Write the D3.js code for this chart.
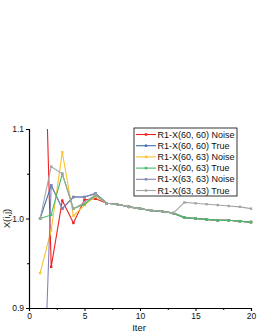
<!DOCTYPE html>
<html>
<head>
<meta charset="utf-8">
<script src="https://cdn.jsdelivr.net/npm/d3@7"></script>
<style>
  html, body { margin: 0; padding: 0; background: #fff; }
  svg { display: block; font-family: Arial, "Liberation Sans", sans-serif; }
</style>
</head>
<body>
<div id="chart"></div>
<script>
// Iter 1..20, values
const iters = d3.range(1, 21);
const seriesNames = [
  'R1-X(60, 60) Noise', 'R1-X(60, 60) True', 'R1-X(60, 63) Noise',
  'R1-X(60, 63) True', 'R1-X(63, 63) Noise', 'R1-X(63, 63) True'
];
const seriesColors = ['#f02020', '#3d6fb0', '#fcc22e', '#45bb6a', '#8484b8', '#a4a4a4'];
// order the lines are painted in (green sits on top of the shared tail)
const drawOrder = [0, 1, 2, 4, 3, 5];

const red    = [1.40, 0.946, 1.020, 0.995, 1.021, 1.022, 1.017, 1.016, 1.013, 1.011, 1.009, 1.008, 1.006, 1.001, 1.000, 0.999, 0.998, 0.998, 0.997, 0.996];
const blue   = [1.000, 1.037, 1.011, 1.024, 1.024, 1.028, 1.017, 1.016, 1.013, 1.011, 1.009, 1.008, 1.006, 1.001, 1.000, 0.999, 0.998, 0.998, 0.997, 0.996];
const yellow = [0.939, 0.987, 1.074, 1.003, 1.015, 1.025, 1.017, 1.016, 1.013, 1.011, 1.009, 1.008, 1.006, 1.001, 1.000, 0.999, 0.998, 0.998, 0.997, 0.996];
const green  = [1.000, 1.004, 1.050, 1.011, 1.016, 1.026, 1.017, 1.016, 1.013, 1.011, 1.009, 1.008, 1.006, 1.001, 1.000, 0.999, 0.998, 0.998, 0.997, 0.996];
const purple = [0.680, 1.037, 1.011, 1.024, 1.024, 1.028, 1.017, 1.016, 1.013, 1.011, 1.009, 1.008, 1.006, 1.001, 1.000, 0.999, 0.998, 0.998, 0.997, 0.996];
const grey   = [1.000, 1.058, 1.050, 1.011, 1.018, 1.027, 1.017, 1.016, 1.013, 1.011, 1.009, 1.008, 1.006, 1.018, 1.017, 1.016, 1.015, 1.014, 1.013, 1.011];
const seriesValues = [red, blue, yellow, green, purple, grey];

const xTicks = [0, 5, 10, 15, 20];
const xMinor = [2.5, 7.5, 12.5, 17.5];
const yTicks = [0.9, 1.0, 1.1];
const yMinor = [0.95, 1.05];

const W = 258, H = 333;
const margin = { top: 129, right: 7, bottom: 25, left: 29 };
const innerW = W - margin.left - margin.right;
const innerH = H - margin.top - margin.bottom;

const svg = d3.select('#chart').append('svg').attr('width', W).attr('height', H);
const g = svg.append('g').attr('transform', `translate(${margin.left},${margin.top})`);

const x = d3.scaleLinear().domain([0, 20]).range([0, innerW]);
const y = d3.scaleLinear().domain([0.9, 1.1]).range([innerH, 0]);

g.append('clipPath').attr('id', 'plot')
  .append('rect').attr('x', 0).attr('y', 0).attr('width', innerW + 2).attr('height', innerH);

// axes
const xAxis = g.append('g').attr('transform', `translate(0,${innerH})`)
  .call(d3.axisBottom(x).tickValues(xTicks).tickFormat(d3.format('d')).tickSize(3).tickPadding(2));
g.append('g').attr('transform', `translate(0,${innerH})`)
  .call(d3.axisBottom(x).tickValues(xMinor).tickFormat('').tickSize(2))
  .select('.domain').remove();
const yAxis = g.append('g')
  .call(d3.axisLeft(y).tickValues(yTicks).tickFormat(d3.format('.1f')).tickSize(3).tickPadding(2));
g.append('g')
  .call(d3.axisLeft(y).tickValues(yMinor).tickFormat('').tickSize(2))
  .select('.domain').remove();
g.selectAll('.domain').attr('stroke', '#000').attr('stroke-width', 1.2);
g.selectAll('.tick line').attr('stroke', '#000');
xAxis.selectAll('text').style('font-size', '8.5px').attr('fill', '#111');
yAxis.selectAll('text').style('font-size', '8.5px').attr('fill', '#111');

svg.append('text').attr('x', margin.left + x(10) - 1).attr('y', 331)
  .attr('text-anchor', 'middle').style('font-size', '9.5px').attr('fill', '#111').text('Iter');
svg.append('text').attr('transform', `translate(10,${margin.top + y(1.0)}) rotate(-90)`)
  .attr('text-anchor', 'middle').style('font-size', '9.5px').attr('fill', '#111').text('X(i,j)');

// series
const line = d3.line().x((d, i) => x(iters[i])).y((d) => y(d));
const plot = g.append('g').attr('clip-path', 'url(#plot)');
drawOrder.forEach((k) => {
  const vals = seriesValues[k];
  const s = plot.append('g');
  s.append('path').datum(vals).attr('d', line)
    .attr('fill', 'none').attr('stroke', seriesColors[k]).attr('stroke-width', 1.1);
  s.selectAll('rect').data(vals).join('rect')
    .attr('x', (d, i) => x(iters[i]) - 1.2).attr('y', (d) => y(d) - 1.2)
    .attr('width', 2.4).attr('height', 2.4).attr('fill', seriesColors[k]);
});

// legend
const lg = svg.append('g').attr('transform', 'translate(134,128)');
lg.append('rect').attr('x', 0).attr('y', 0).attr('width', 103).attr('height', 68)
  .attr('fill', '#fff').attr('stroke', '#000').attr('stroke-width', 0.8);
seriesNames.forEach((name, k) => {
  const row = lg.append('g').attr('transform', `translate(0,${6.5 + k * 11.2})`);
  row.append('line').attr('x1', 2).attr('x2', 22).attr('y1', 0).attr('y2', 0)
    .attr('stroke', seriesColors[k]).attr('stroke-width', 1.1);
  row.append('rect').attr('x', 10.8).attr('y', -1.2).attr('width', 2.4).attr('height', 2.4)
    .attr('fill', seriesColors[k]);
  row.append('text').attr('x', 23.5).attr('y', 0).attr('dy', '0.35em')
    .style('font-size', '9px').attr('fill', '#111').text(name);
});
</script>
</body>
</html>
